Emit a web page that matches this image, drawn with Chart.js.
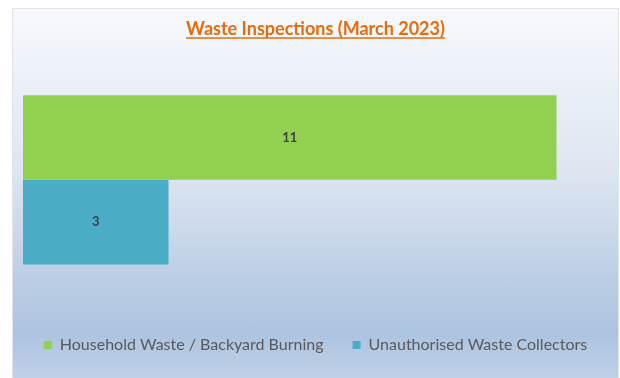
<!DOCTYPE html>
<html>
<head>
<meta charset="utf-8">
<script src="https://cdn.jsdelivr.net/npm/chart.js@4.4.0/dist/chart.umd.min.js"></script>
<style>
  html, body { margin:0; padding:0; background:#fff; }
  #wrap {
    position:absolute; left:12px; top:8px; width:605px; height:370px;
    border:1px solid #e0e3e8; border-bottom:none;
    background:linear-gradient(to bottom, #f7f9fc 0%, #dce5f1 45%, #b9cce4 75%, #adc4e0 88%, #c0d0e7 100%);
  }
</style>
</head>
<body>
<div id="wrap"><canvas id="c" width="605" height="370"></canvas></div>
<script>
// Waste inspections, March 2023
const categories = [''];
const seriesNames = ['Household Waste / Backyard Burning', 'Unauthorised Waste Collectors'];
const householdBurning = [11];
const unauthorisedCollectors = [3];
const seriesColors = ['#92d050', '#4bacc6'];

// writes the value in the middle of each bar
const barLabels = {
  id: 'barLabels',
  afterDatasetsDraw(chart){
    const ctx = chart.ctx;
    ctx.save();
    ctx.font = 'bold 13px Lato';
    ctx.fillStyle = '#404040';
    ctx.textAlign = 'center';
    ctx.textBaseline = 'middle';
    chart.data.datasets.forEach((ds, i) => {
      chart.getDatasetMeta(i).data.forEach((bar, j) => {
        const x = (bar.x + bar.base) / 2;
        ctx.fillText(String(ds.data[j]), x, bar.y);
      });
    });
    ctx.restore();
  }
};

// underline under the title
const titleUnderline = {
  id: 'titleUnderline',
  afterDraw(chart){
    const t = chart.titleBlock;
    if(!t) return;
    const ctx = chart.ctx;
    ctx.save();
    ctx.font = 'bold 18px Lato';
    const w = ctx.measureText(chart.options.plugins.title.text).width;
    const cx = (t.left + t.right) / 2;
    const y = t.top + t.options.padding.top + 20;
    ctx.strokeStyle = '#e46c0a';
    ctx.lineWidth = 1.3;
    ctx.beginPath();
    ctx.moveTo(cx - w/2, y);
    ctx.lineTo(cx + w/2, y);
    ctx.stroke();
    ctx.restore();
  }
};

// empty side axes that only hold the margin left and right of the bars
const gutter = (w, pos) => ({
  position: pos,
  display: true,
  ticks: { display: false },
  grid: { display: false },
  border: { display: false },
  afterFit(s){ s.width = w; }
});

new Chart(document.getElementById('c'), {
  type: 'bar',
  data: {
    labels: categories,
    datasets: [
      { label: seriesNames[0], data: householdBurning, backgroundColor: seriesColors[0] },
      { label: seriesNames[1], data: unauthorisedCollectors, backgroundColor: seriesColors[1] }
    ]
  },
  options: {
    indexAxis: 'y',
    responsive: false,
    animation: false,
    barPercentage: 1,
    categoryPercentage: 0.66,
    layout: { padding: { left: 0, right: 0, top: 0, bottom: 16 } },
    scales: {
      x: { display: false, min: 0, max: 12 },
      y: gutter(10, 'left'),
      yRight: Object.assign({ type: 'category', labels: categories }, gutter(13, 'right'))
    },
    plugins: {
      title: {
        display: true,
        text: 'Waste Inspections (March 2023)',
        color: '#e46c0a',
        font: { family: 'Lato', size: 18, weight: 'bold' },
        padding: { top: 9, bottom: 12 }
      },
      legend: {
        position: 'bottom',
        labels: {
          color: '#595959',
          font: { family: 'Lato', size: 16 },
          boxWidth: 8,
          boxHeight: 8,
          padding: 29
        }
      },
      tooltip: { enabled: false }
    }
  },
  plugins: [barLabels, titleUnderline]
});
</script>
</body>
</html>
